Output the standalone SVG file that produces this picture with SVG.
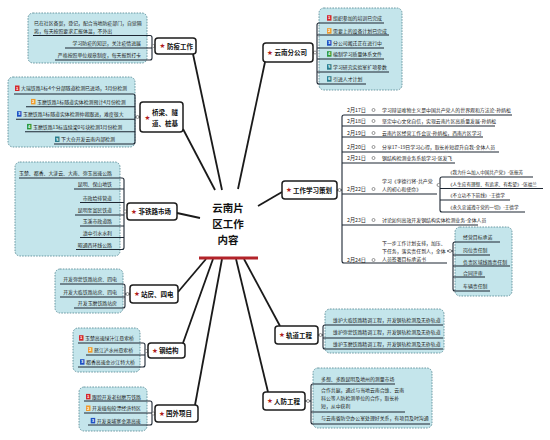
<svg xmlns="http://www.w3.org/2000/svg" width="550" height="440" viewBox="0 0 550 440">
<defs>
<style>
text{font-family:"Noto Sans CJK SC","Noto Sans",sans-serif}
.box{fill:#c4e5eb;stroke:#5e8f9a;stroke-width:0.9;stroke-dasharray:1.6 1.2}
.nd{fill:#fff;stroke:#1c1c1c;stroke-width:1.5}
.nt{font-size:6.5px;font-weight:bold;fill:#111}
.st{font-size:6.5px;fill:#b0201c;font-family:"DejaVu Sans",sans-serif}
.it{font-size:4.9px;fill:#222}
.sm{font-size:4.6px;fill:#222}
.dt{font-size:5.2px;fill:#222}
.ul{stroke:#1d2733;stroke-width:1.1;fill:none}
.cn{stroke:#1a1a1a;stroke-width:1.8;fill:none}
.tg{fill:#fff;stroke:#555;stroke-width:0.6}
.bn{font-size:4px;font-weight:bold;fill:#fff;text-anchor:middle}
.b1{fill:#d3282b}.b2{fill:#ef9b2c}.b3{fill:#1f4fc2}.b4{fill:#2f9a3b}.b5{fill:#2a7c8b}
.ti{font-size:10.5px;font-weight:bold;fill:#111;text-anchor:middle}
.e{text-anchor:end}
</style>
</defs>
<rect width="550" height="440" fill="#fff"/>

<g id="connectors">
<line class="cn" x1="183" y1="129" x2="215" y2="190"/>
<line class="cn" x1="193" y1="54" x2="222" y2="190"/>
<line class="cn" x1="265" y1="62" x2="238" y2="189"/>
<line class="cn" x1="282" y1="192" x2="258" y2="206"/>
<line class="cn" x1="177" y1="213" x2="200" y2="218"/>
<line class="cn" x1="178" y1="292" x2="206" y2="259"/>
<line class="cn" x1="183" y1="343" x2="213" y2="259"/>
<line class="cn" x1="195" y1="405" x2="222" y2="259"/>
<line class="cn" x1="268" y1="392" x2="236" y2="259"/>
<line class="cn" x1="280" y1="326" x2="244" y2="259"/>
</g>

<g id="center">
<text class="ti" x="228" y="211.5">云南片</text>
<text class="ti" x="228" y="227.5">区工作</text>
<text class="ti" x="228" y="244">内容</text>
<rect x="199" y="256.5" width="59" height="3" fill="#b3242a"/>
</g>

<g id="n-fangyi">
<rect class="box" x="28" y="13" width="119" height="50" rx="5"/>
<text class="it" x="34" y="24.8">已在社区备案，登记，配合当地防疫部门，自觉隔</text>
<text class="it" x="34" y="32.8">离，每天按照要求汇报体温，不外出</text>
<text class="it e" x="141" y="45.3">学习防疫的知识，关注疫情进展</text>
<text class="it e" x="141" y="56.8">严格按照单位规章制度，每天报到打卡</text>
<path class="ul" d="M33,35.5H150Q152,35.5 152,37.5V58Q152,60 150,60H55M65,48H152"/>
<line class="ul" x1="152" y1="46" x2="155" y2="46"/>
<circle class="tg" cx="153.6" cy="46" r="1.5"/>
<rect class="nd" x="155" y="38" width="41" height="16" rx="3"/>
<text class="st" x="159.5" y="48.4">★</text>
<text class="nt" x="167" y="48.5">防疫工作</text>
</g>

<g id="n-qiaoliang">
<rect class="box" x="8" y="77" width="127" height="70" rx="5"/>
<rect class="b1" x="15" y="85.5" width="4.5" height="5.5"/><text class="bn" x="17.25" y="89.7">1</text>
<text class="it" x="21" y="90.1">大瑞铁路1标4个分部隧道检测已进场，3月份检测</text>
<rect class="b2" x="31" y="98.9" width="4.5" height="5.5"/><text class="bn" x="33.25" y="103.1">2</text>
<text class="it" x="37" y="103.5">玉磨铁路1标隧道实体检测预计4月份检测</text>
<rect class="b3" x="17" y="111.2" width="4.5" height="5.5"/><text class="bn" x="19.25" y="115.4">3</text>
<text class="it" x="23" y="115.8">玉磨铁路1标隧道实体检测仲裁跟进，难度很大</text>
<rect class="b4" x="27" y="123.9" width="4.5" height="5.5"/><text class="bn" x="29.25" y="128.1">4</text>
<text class="it" x="33" y="128.5">玉磨铁路13标连续梁0号块检测3月份检测</text>
<rect class="b5" x="55" y="136.5" width="4.5" height="5.5"/><text class="bn" x="57.25" y="140.7">5</text>
<text class="it" x="61" y="141.1">下大仓开发云南内部检测</text>
<path class="ul" d="M14,94H133Q135,94 135,96V142Q135,144 133,144H54M26,106.7H135M16,119.3H135M25,131.7H135"/>
<line class="ul" x1="135" y1="117" x2="140" y2="117"/>
<circle class="tg" cx="137.5" cy="117" r="1.5"/>
<rect class="nd" x="140" y="102" width="43" height="30" rx="3"/>
<text class="st" x="144.5" y="120.3">★</text>
<text class="nt" x="152" y="114.5">桥梁、隧</text>
<text class="nt" x="152" y="125.5">道、桩基</text>
</g>

<g id="n-feitielu">
<rect class="box" x="15" y="162" width="105" height="94" rx="5"/>
<text class="it e" x="112" y="174.8">玉楚、都香、大漾云、大南、弥玉高速公路</text>
<text class="it e" x="112" y="185.8">昆明、保山地铁</text>
<text class="it e" x="112" y="199.8">市政给排管道</text>
<text class="it e" x="112" y="211.8">昆明至富民铁道</text>
<text class="it e" x="112" y="222.8">玉溪市政道路</text>
<text class="it e" x="112" y="234.8">滇中引水水利</text>
<text class="it e" x="112" y="246.8">昭通西环线公路</text>
<path class="ul" d="M19,178H122Q124,178 124,180V247.5Q124,249.5 122,249.5H76M74,189H124M80,202.5H124M75,215H124M80,226H124M80,237.5H124"/>
<line class="ul" x1="124" y1="211.5" x2="127" y2="211.5"/>
<circle class="tg" cx="125.5" cy="211.5" r="1.5"/>
<rect class="nd" x="127" y="203" width="50" height="17" rx="3"/>
<text class="st" x="131" y="213.8">★</text>
<text class="nt" x="138.5" y="214">非铁路市场</text>
</g>

<g id="n-zhanfang">
<rect class="box" x="55" y="269" width="68" height="44" rx="5"/>
<text class="it e" x="117" y="280.8">开发弥蒙铁路站房、四电</text>
<text class="it e" x="117" y="294.3">开发大临铁路站房、四电</text>
<text class="it e" x="117" y="305.1">开发玉磨铁路站房</text>
<path class="ul" d="M60,284H123Q125,284 125,286V306Q125,308 123,308H74M60,297H125"/>
<line class="ul" x1="125" y1="294" x2="130" y2="294"/>
<circle class="tg" cx="127.5" cy="294" r="1.5"/>
<rect class="nd" x="130" y="285" width="48" height="18" rx="3"/>
<text class="st" x="134" y="296.3">★</text>
<text class="nt" x="141" y="296.5">站房、四电</text>
</g>

<g id="n-gangjiegou">
<rect class="box" x="73" y="328" width="67" height="44" rx="5"/>
<rect class="b1" x="79" y="335.2" width="4.5" height="5.5"/><text class="bn" x="81.25" y="339.4">1</text>
<text class="it" x="85" y="339.8">玉楚高速绿汁江悬索桥</text>
<rect class="b2" x="88" y="347.2" width="4.5" height="5.5"/><text class="bn" x="90.25" y="351.4">2</text>
<text class="it" x="94" y="351.8">怒江泸水州悬索桥</text>
<rect class="b3" x="80" y="359.2" width="4.5" height="5.5"/><text class="bn" x="82.25" y="363.4">3</text>
<text class="it" x="86" y="363.8">都香高速金沙江特大桥</text>
<path class="ul" d="M78,343H143Q145,343 145,345V365Q145,367 143,367H78M86,355H145"/>
<line class="ul" x1="145" y1="351" x2="148" y2="351"/>
<circle class="tg" cx="146.5" cy="351" r="1.5"/>
<rect class="nd" x="148" y="343" width="37" height="15" rx="3"/>
<text class="st" x="152" y="352.8">★</text>
<text class="nt" x="159" y="353">钢结构</text>
</g>

<g id="n-guowai">
<rect class="box" x="79" y="387" width="68" height="44" rx="5"/>
<rect class="b1" x="86" y="393.9" width="4.5" height="5.5"/><text class="bn" x="88.25" y="398.1">1</text>
<text class="it" x="92" y="398.5">跟踪开发老挝磨万铁路</text>
<rect class="b2" x="86" y="405.5" width="4.5" height="5.5"/><text class="bn" x="88.25" y="409.7">2</text>
<text class="it" x="92" y="410.1">开发缅甸皎漂经济特区</text>
<rect class="b3" x="90.7" y="417.9" width="4.5" height="5.5"/><text class="bn" x="92.95" y="422.1">3</text>
<text class="it" x="96.7" y="422.5">开发柬埔寨金港高速</text>
<path class="ul" d="M84,401H150Q152,401 152,403V423Q152,425 150,425H88M84,413H152"/>
<line class="ul" x1="152" y1="413.5" x2="155" y2="413.5"/>
<circle class="tg" cx="153.5" cy="413.5" r="1.5"/>
<rect class="nd" x="155" y="405" width="43" height="17" rx="3"/>
<text class="st" x="159" y="415.8">★</text>
<text class="nt" x="166" y="416">国外项目</text>
</g>

<g id="n-yunnan">
<rect class="box" x="319" y="8" width="83" height="82" rx="5"/>
<rect class="b1" x="327" y="15.2" width="4.5" height="5.5"/><text class="bn" x="329.25" y="19.4">1</text>
<text class="it" x="333" y="19.8">组织参加的培训已完成</text>
<rect class="b2" x="327" y="28.2" width="4.5" height="5.5"/><text class="bn" x="329.25" y="32.4">2</text>
<text class="it" x="333" y="32.8">需要上的设备计划已完成</text>
<rect class="b3" x="327" y="40.2" width="4.5" height="5.5"/><text class="bn" x="329.25" y="44.4">3</text>
<text class="it" x="333" y="44.8">分公司搬迁正在进行中</text>
<rect class="b4" x="327" y="51.2" width="4.5" height="5.5"/><text class="bn" x="329.25" y="55.4">4</text>
<text class="it" x="333" y="55.8">编制学习质量体系文件</text>
<rect class="b5" x="327" y="64.2" width="4.5" height="5.5"/><text class="bn" x="329.25" y="68.4">5</text>
<text class="it" x="333" y="68.8">学习研究实验室扩项参数</text>
<rect class="b5" x="327" y="76.2" width="4.5" height="5.5"/><text class="bn" x="329.25" y="80.4">6</text>
<text class="it" x="333" y="80.8">引进人才计划</text>
<path class="ul" d="M384,23H319Q317,23 317,25V82Q317,84 319,84H366M389,35H317M384,48H317M384,59H317M389,72H317"/>
<line class="ul" x1="313" y1="52.5" x2="317" y2="52.5"/>
<circle class="tg" cx="315" cy="52.5" r="1.5"/>
<rect class="nd" x="263" y="43" width="50" height="19" rx="3"/>
<text class="st" x="267" y="54.8">★</text>
<text class="nt" x="274.5" y="55">云南分公司</text>
</g>

<g id="n-xuexi">
<rect class="box" x="455" y="227" width="57" height="69" rx="5"/>
<path class="ul" d="M512,115H344Q342,115 342,117V261Q342,263 344,263H447M342,126H495M342,137H483M342,152H499M342,163H455M342,194H437M342,225H478"/>
<path class="ul" d="M533,177H442Q440,177 440,179V210Q440,212 442,212H525M440,188.5H543M440,200H510"/>
<path class="ul" d="M500,242H455Q453,242 453,244V289Q453,291 455,291H490M453,255H490M453,266H510M453,277H485"/>
<line class="ul" x1="337" y1="190" x2="342" y2="190"/>
<line class="ul" x1="437" y1="185" x2="440" y2="185"/>
<line class="ul" x1="447" y1="251" x2="453" y2="251"/>
<circle class="tg" cx="339.5" cy="190" r="1.5"/>
<circle class="tg" cx="438.5" cy="185" r="1.5"/>
<circle class="tg" cx="450" cy="251" r="1.5"/>
<g class="tg">
<circle cx="373.5" cy="110" r="1.5"/><circle cx="373.5" cy="121" r="1.5"/><circle cx="373.5" cy="133" r="1.5"/><circle cx="373.5" cy="147" r="1.5"/><circle cx="373.5" cy="158" r="1.5"/><circle cx="373.5" cy="189" r="1.5"/><circle cx="373.5" cy="220" r="1.5"/><circle cx="373.5" cy="260" r="1.5"/>
</g>
<text class="dt" x="347" y="111.8">2月17日</text>
<text class="dt" x="347" y="122.8">2月18日</text>
<text class="dt" x="347" y="134.8">2月19日</text>
<text class="dt" x="347" y="148.8">2月20日</text>
<text class="dt" x="347" y="159.8">2月21日</text>
<text class="dt" x="347" y="190.8">2月22日</text>
<text class="dt" x="347" y="221.8">2月23日</text>
<text class="dt" x="347" y="261.8">2月24日</text>
<text class="it" x="382" y="111.8">学习辩证唯物主义是中国共产党人的世界观和方法论-孙炳松</text>
<text class="it" x="382" y="122.8">坚定中心文化自信，实现云南片区高质量发展-孙炳松</text>
<text class="it" x="382" y="134.8">云南片区经营工作会议-孙炳松，西南片区学习</text>
<text class="it" x="382" y="148.8">分享17~19日学习心得，取长补短提升自我-全体人员</text>
<text class="it" x="382" y="159.8">钢结构检测业务系统学习-张发飞</text>
<text class="it" x="382" y="182.8">学习《李德行将-共产党</text>
<text class="it" x="382" y="191.3">人的初心和使命》</text>
<text class="sm" x="448" y="173.8">《我为什么加入中国共产党》-张振芳</text>
<text class="sm" x="448" y="185.6">《人生应有理想、有追求、有希望》-张福兰</text>
<text class="sm" x="448" y="196.8">《不立功不下前线》-王德学</text>
<text class="sm" x="448" y="208.8">《永久忠诚遵守党的一切》-王德学</text>
<text class="it" x="382" y="221.8">讨论如何高效开发钢结构实体检测业务-全体人员</text>
<text class="it" x="382" y="244.8">下一步工作计划安排，加压、</text>
<text class="it" x="382" y="252.8">下任务，落实责任到人，全体</text>
<text class="it" x="382" y="260.8">人员签署目标承诺书</text>
<text class="it" x="463" y="238.8">经营目标承诺</text>
<text class="it" x="463" y="251.8">岗位责任制</text>
<text class="it" x="463" y="263.8">负责区域线路责任制</text>
<text class="it" x="463" y="274.8">合同评审</text>
<text class="it" x="463" y="287.8">车辆责任制</text>
<rect class="nd" x="282" y="181" width="55" height="18" rx="3"/>
<text class="st" x="286" y="192.3">★</text>
<text class="nt" x="293" y="192.5">工作学习策划</text>
</g>

<g id="n-guidao">
<rect class="box" x="325" y="309" width="119" height="44" rx="5"/>
<text class="it" x="333" y="321.8">维护大临铁路精调工程，开发钢轨检测及无砟轨道</text>
<text class="it" x="333" y="333.8">维护弥蒙铁路精调工程，开发钢轨检测及无砟轨道</text>
<text class="it" x="333" y="345.8">维护玉磨铁路精调工程，开发钢轨检测及无砟轨道</text>
<path class="ul" d="M443,325H325Q323,325 323,327V347Q323,349 325,349H443M323,338H443"/>
<line class="ul" x1="318" y1="335" x2="323" y2="335"/>
<circle class="tg" cx="320.5" cy="335" r="1.5"/>
<rect class="nd" x="275" y="326" width="43" height="18" rx="3"/>
<text class="st" x="279" y="337.3">★</text>
<text class="nt" x="286" y="337.5">轨道工程</text>
</g>

<g id="n-renfang">
<rect class="box" x="313" y="368" width="119" height="60" rx="5"/>
<text class="it" x="321" y="380.8">多想、多跑昆明及地州的测量市场</text>
<text class="it" x="321" y="391.8">合作共赢，通过与当地云南合维、云南</text>
<text class="it" x="321" y="399.8">科公等人防检测单位的合作，取长补</text>
<text class="it" x="321" y="408.3">短，从中获利</text>
<text class="it" x="321" y="419.8">与云南省防空办公室处理好关系，有项目及时沟通</text>
<path class="ul" d="M395,384H313Q311,384 311,386V422Q311,424 313,424H430M311,412H405"/>
<line class="ul" x1="305" y1="401" x2="311" y2="401"/>
<circle class="tg" cx="308" cy="401" r="1.5"/>
<rect class="nd" x="263" y="392" width="42" height="18" rx="3"/>
<text class="st" x="267" y="403.3">★</text>
<text class="nt" x="274" y="403.5">人防工程</text>
</g>
</svg>
